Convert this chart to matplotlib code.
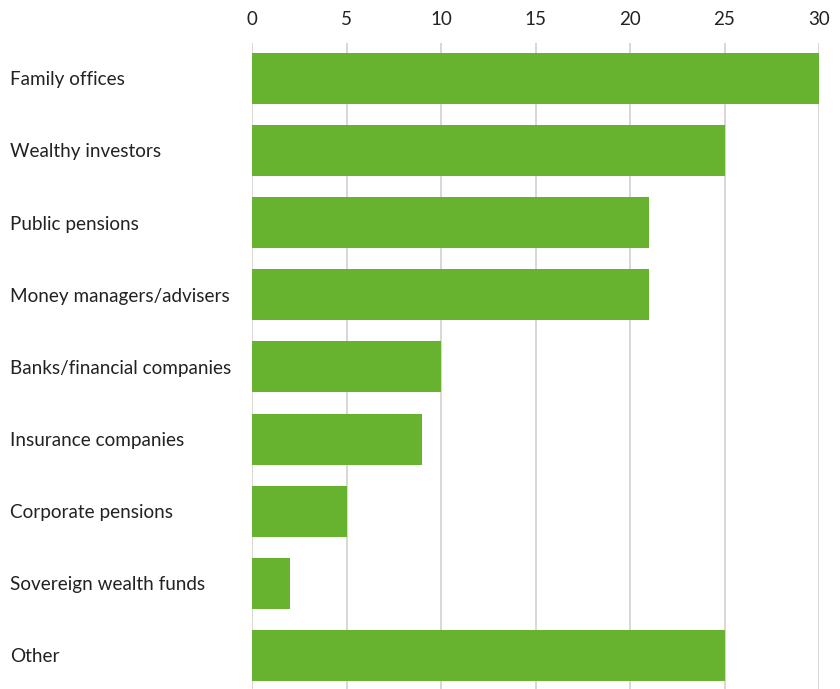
#horizontal bar chart of investor types
import matplotlib.pyplot as plt
import numpy as np

categories = ["Family offices", "Wealthy investors", "Public pensions",
              "Money managers/advisers", "Banks/financial companies",
              "Insurance companies", "Corporate pensions",
              "Sovereign wealth funds", "Other"]
values = [30, 25, 21, 21, 10, 9, 5, 2, 25]
xticks = [0, 5, 10, 15, 20, 25, 30]

plt.rcParams['font.family'] = ['Lato', 'DejaVu Sans']

fig = plt.figure(figsize=(8.4, 6.89), dpi=100)
ax = fig.add_axes([0.3, 0.0, 0.675, 0.9376])

y = np.arange(len(categories))
ax.barh(y, values, height=0.707, color="#67b32f", zorder=3)

ax.set_xlim(0, 30)
ax.set_ylim(len(categories) - 1 + 0.465, -0.49)
ax.set_xticks(xticks)
ax.xaxis.tick_top()
ax.tick_params(axis='x', length=0, pad=11, labelsize=13.5, colors="#222222")
ax.grid(axis='x', color="#d4d4d4", linewidth=1.3, zorder=0)

# category names left-aligned at the figure edge
ax.set_yticks(y)
ax.set_yticklabels(categories)
ax.tick_params(axis='y', length=0, pad=174, labelsize=13.6, colors="#222222")
for lab in ax.get_yticklabels():
    lab.set_horizontalalignment('left')

for s in ax.spines.values():
    s.set_visible(False)

fig.savefig("out.png", dpi=100)
